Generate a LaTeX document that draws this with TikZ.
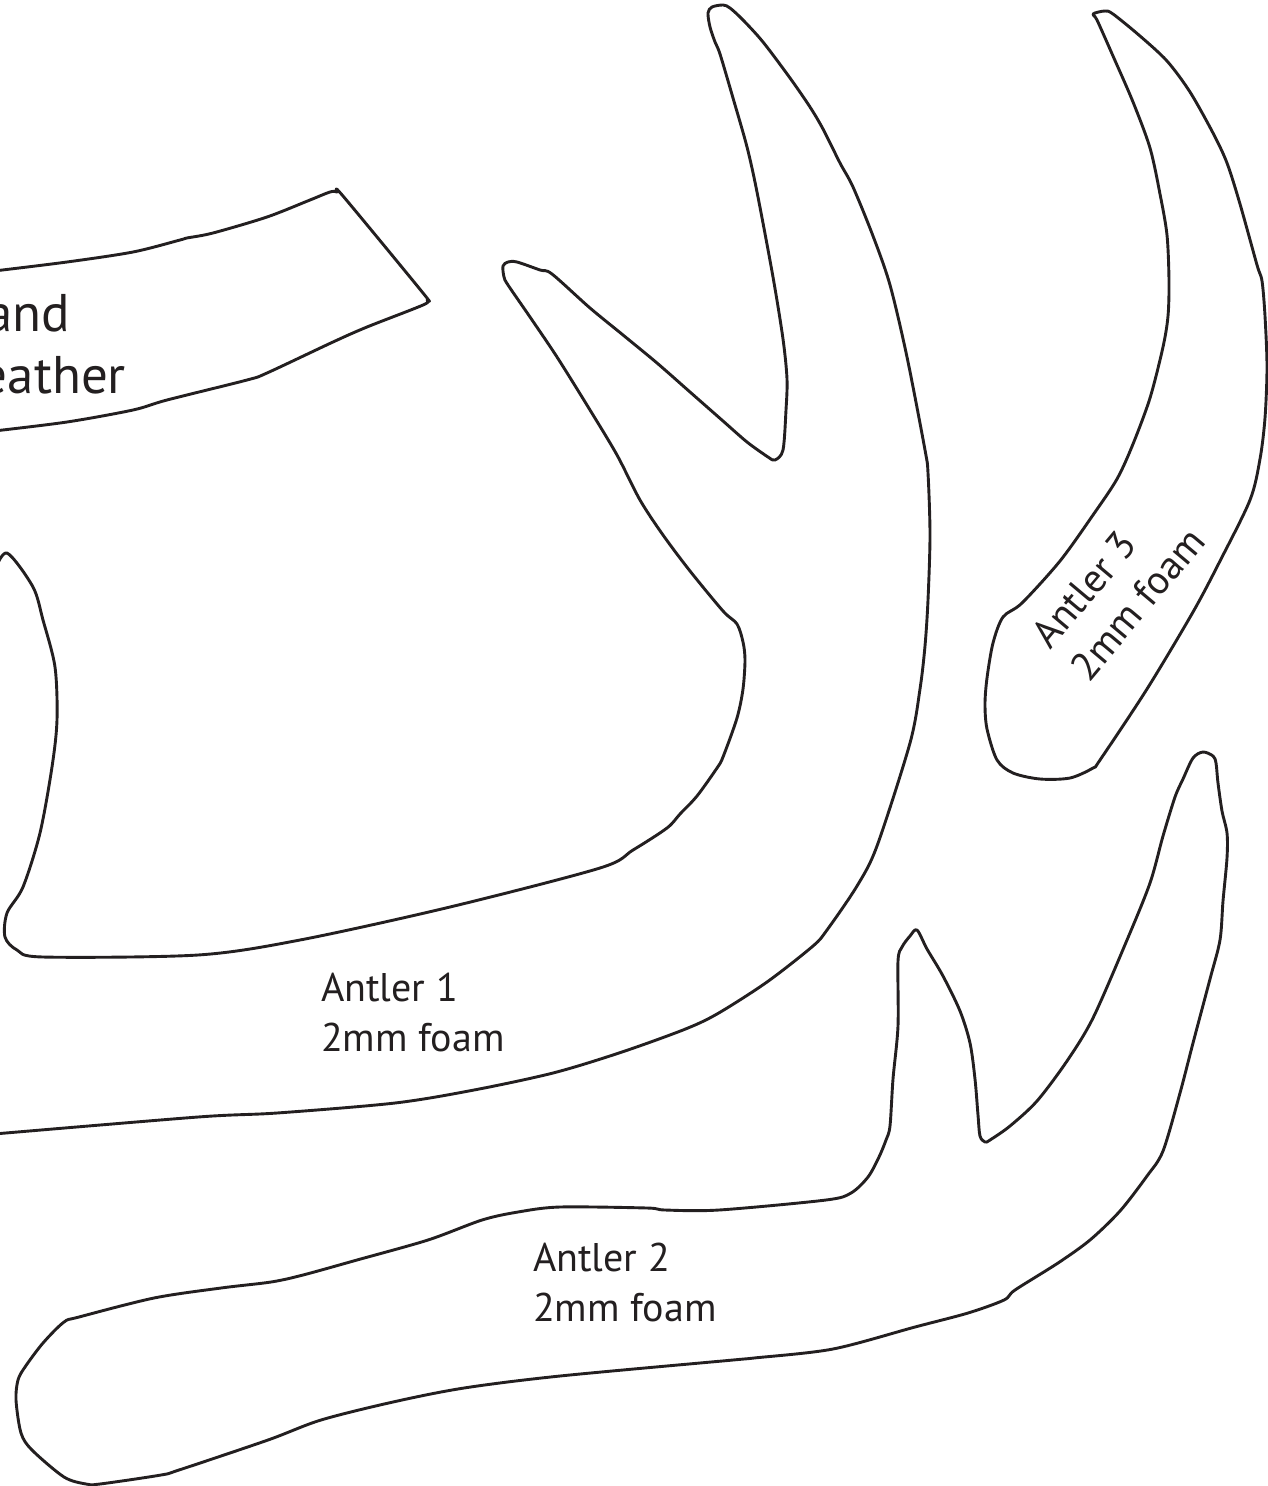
\documentclass[tikz,border=0pt]{standalone}
\usepackage{fontspec}
\setmainfont{PT Sans}
\definecolor{ink}{RGB}{35,31,32}
\begin{document}
\begin{tikzpicture}[x=1pt,y=-1pt,
  outline/.style={draw=ink,line width=2.9pt,line join=round,smooth,tension=0.5},
  lbl/.style={text=ink,inner sep=0pt,outer sep=0pt,align=left,font=\fontsize{40}{50}\selectfont},
  biglbl/.style={text=ink,inner sep=0pt,outer sep=0pt,font=\fontsize{53}{62}\selectfont}]
\path[use as bounding box,fill=white] (0,0) rectangle (1268,1486);
\begin{scope}
\clip (0,0) rectangle (1268,1486);
% band strip
\draw[outline] plot coordinates {(-6,271) (67,262) (133,252) (180,240) (187,238) (213,233) (267,217) (310,200) (330,192) (337,192) (343,196) (423,293) (427,300) (423,305) (367,327) (333,342) (267,373) (247,380) (167,400) (133,410) (67,422) (-6,431)};
% antler 1
\draw[outline] plot coordinates {(-6,1134) (198,1117) (277,1113) (395,1103) (474,1090) (553,1073) (619,1053) (683,1030) (717,1014) (767,982) (813,946) (827,930) (857,886) (877,846) (910,743) (920,689) (925,646) (928,600) (930,535) (928,473) (925,450) (907,357) (890,285) (873,236) (853,187) (840,163) (823,129) (810,107) (790,78) (763,42) (743,20) (730,8) (723,5) (712,7) (708,13) (710,27) (715,42) (720,54) (733,98) (747,147) (757,192) (773,277) (783,339) (787,379) (786,410) (783,450) (775,460) (768,457) (747,442) (723,421) (690,392) (657,363) (623,335) (590,308) (552,274) (540,270) (517,262) (508,262) (503,266) (504,277) (508,285) (530,317) (557,357) (590,410) (617,455) (640,500) (663,535) (690,571) (723,611) (737,624) (743,642) (745,660) (743,689) (737,718) (723,757) (717,768) (697,796) (680,814) (667,828) (633,850) (600,868) (450,907) (300,940) (198,955) (43,957) (17,950) (5,937) (7,913) (23,887) (40,833) (52,767) (57,720) (55,667) (43,620) (33,587) (7,553) (-6,572)};
% antler 3
\draw[outline] plot[smooth cycle] coordinates {(1093,14) (1105,11) (1113,14) (1140,36) (1167,61) (1190,92) (1213,133) (1227,163) (1240,204) (1257,265) (1262,281) (1265,316) (1267,367) (1265,418) (1260,459) (1250,500) (1220,561) (1193,612) (1147,689) (1100,760) (1093,768) (1070,778) (1040,779) (1013,773) (997,760) (987,729) (985,704) (987,678) (993,643) (1003,617) (1022,603) (1060,561) (1093,515) (1117,479) (1133,444) (1150,398) (1163,347) (1168,316) (1169,281) (1167,235) (1160,194) (1150,148) (1133,102) (1113,56) (1097,20)};
% antler 2
\draw[outline] plot[smooth cycle] coordinates {(1203,752) (1213,756) (1216,763) (1218,783) (1222,811) (1227,833) (1227,858) (1223,901) (1220,940) (1210,979) (1193,1043) (1180,1093) (1163,1151) (1147,1176) (1120,1211) (1090,1240) (1058,1263) (1015,1290) (1004,1300) (968,1313) (915,1327) (833,1349) (754,1358) (733,1360) (560,1376) (464,1388) (393,1402) (321,1420) (268,1440) (179,1470) (161,1475) (100,1484) (86,1484) (64,1477) (32,1450) (21,1433) (16,1400) (18,1380) (25,1367) (43,1343) (64,1322) (79,1317) (154,1298) (221,1288) (271,1282) (303,1275) (357,1260) (428,1240) (482,1220) (518,1212) (560,1207) (647,1208) (665,1210) (719,1210) (826,1200) (851,1193) (868,1177) (879,1157) (886,1140) (890,1126) (893,1079) (898,1026) (898,961) (902,947) (910,936) (917,930) (927,949) (943,976) (960,1011) (970,1043) (975,1079) (978,1115) (980,1136) (985,1142) (990,1140) (1010,1126) (1037,1101) (1067,1061) (1093,1018) (1127,940) (1150,883) (1163,836) (1175,797) (1183,779) (1193,758)};
% band label (cut off at the left edge, as in the reference)
\node[biglbl,anchor=base east] (bandA) at (70,331) {and};
\node[biglbl,anchor=base east] (bandB) at (126,393) {eather};
\end{scope}
\node[lbl,anchor=base west] (a1) at (321,1051) {Antler 1\\2mm foam};
\node[lbl,anchor=base west] (a2) at (533,1321) {Antler 2\\2mm foam};
\node[lbl,anchor=base west,rotate=50] (a3) at (1089,683) {Antler 3\\2mm foam};
\end{tikzpicture}
\end{document}
